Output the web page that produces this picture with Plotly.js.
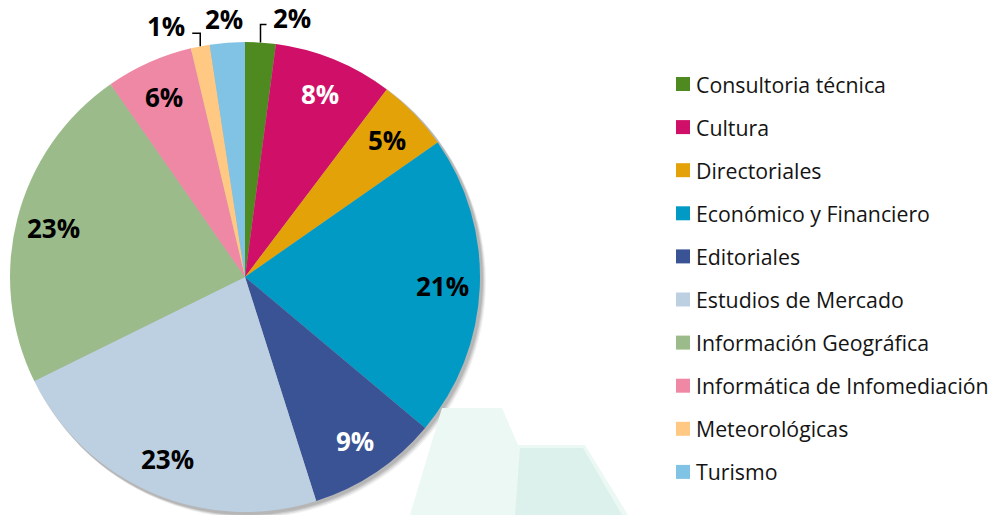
<!DOCTYPE html>
<html>
<head>
<meta charset="utf-8">
<script src="https://cdn.plot.ly/plotly-3.0.1.min.js"></script>
<style>html,body{margin:0;padding:0;background:#fff;}#chart{width:998px;height:515px;}</style>
</head>
<body>
<div id="chart"></div>
<script>
// Data
const categories = [
  "Consultoria técnica",
  "Cultura",
  "Directoriales",
  "Económico y Financiero",
  "Editoriales",
  "Estudios de Mercado",
  "Información Geográfica",
  "Informática de Infomediación",
  "Meteorológicas",
  "Turismo"
];
const shares = [2.1, 8.2, 5.0, 20.8, 9.0, 22.6, 22.6, 6.0, 1.3, 2.4];
const sliceColors = ["#4F8A21", "#D01068", "#E2A208", "#009AC5", "#3A5395",
                     "#BDD0E2", "#9BBC8A", "#EE88A5", "#FFC983", "#80C3E5"];
const labelColors = ["#000", "#fff", "#000", "#000", "#fff",
                     "#000", "#000", "#000", "#000", "#000"];
const labelOutside = [true, false, false, false, false, false, false, false, true, true];
// offsets (px) of outside labels from the slice edge
const outsideOffsets = {0: [32, -25], 8: [-34, -20], 9: [-3, -24]};

const W = 998, H = 515;
const px = x => x / W;
const py = y => 1 - y / H;

// pie geometry (pixels)
const cx = 245, cy = 277, R = 235;
const FONT = "'Open Sans', 'Noto Sans', sans-serif";

const shapes = [];
const annotations = [];

// soft drop shadow
[[5, 0.05], [4, 0.07], [3, 0.09], [2, 0.10]].forEach(([o, a]) => {
  shapes.push({type: "circle", xref: "paper", yref: "paper", layer: "below",
    x0: px(cx - R + o - 1), x1: px(cx + R + o + 1), y0: py(cy + R + o + 1), y1: py(cy - R + o - 1),
    fillcolor: "rgba(0,0,0," + a + ")", line: {width: 0}});
});
// faint watermark in the background
shapes.push({type: "path", xref: "paper", yref: "paper", layer: "below",
  path: "M " + px(410) + " " + py(515) + " L " + px(442) + " " + py(408) + " L " + px(502) + " " + py(408) +
        " L " + px(518) + " " + py(445) + " L " + px(585) + " " + py(445) + " L " + px(628) + " " + py(515) + " Z",
  fillcolor: "#ECF8F4", line: {width: 0}});
shapes.push({type: "path", xref: "paper", yref: "paper", layer: "below",
  path: "M " + px(515) + " " + py(515) + " L " + px(520) + " " + py(448) + " L " + px(583) + " " + py(448) +
        " L " + px(622) + " " + py(515) + " Z",
  fillcolor: "#DCF1EB", line: {width: 0}});

// percentage labels placed from the cumulative shares
const total = shares.reduce((a, b) => a + b, 0);
let cum = 0;
shares.forEach((v, i) => {
  const mid = (cum + v / 2) / total * 2 * Math.PI;
  cum += v;
  const txt = Math.round(v / total * 100) + "%";
  if (!labelOutside[i]) {
    const rl = 0.84 * R;
    annotations.push({xref: "paper", yref: "paper",
      x: px(cx + rl * Math.sin(mid)), y: py(cy - rl * Math.cos(mid)),
      xanchor: "center", yanchor: "middle", showarrow: false, text: "<b>" + txt + "</b>",
      font: {family: FONT, size: 26, color: labelColors[i]}});
  } else {
    const ax = cx + R * Math.sin(mid), ay = cy - R * Math.cos(mid);
    const [dx, dy] = outsideOffsets[i];
    const lx = ax + dx, ly = ay + dy;
    annotations.push({xref: "paper", yref: "paper", x: px(lx), y: py(ly),
      xanchor: "center", yanchor: "middle", showarrow: false, borderpad: 0,
      text: "<b>" + txt + "</b>",
      font: {family: FONT, size: 26, color: labelColors[i]}});
    if (Math.abs(dx) > 15) {
      const ey = ly + 7, ex = lx - Math.sign(dx) * 26;
      shapes.push({type: "path", xref: "paper", yref: "paper",
        path: "M " + px(ax) + " " + py(ay) + " L " + px(ax) + " " + py(ey) + " L " + px(ex) + " " + py(ey),
        line: {color: "#000", width: 1.5}});
    }
  }
});

// legend (squares + annotations)
const legTop = 84, legStep = 43.1;
categories.forEach((c, i) => {
  const yc = legTop + legStep * i;
  shapes.push({type: "rect", xref: "paper", yref: "paper",
    x0: px(676), x1: px(690), y0: py(yc + 7), y1: py(yc - 7),
    fillcolor: sliceColors[i], line: {width: 0}});
  annotations.push({xref: "paper", yref: "paper", x: px(694), y: py(yc),
    xanchor: "left", yanchor: "middle", showarrow: false, text: c,
    font: {family: FONT, size: 21.3, color: "#141414"}});
});

const trace = {
  type: "pie",
  labels: categories,
  values: shares,
  sort: false,
  direction: "clockwise",
  rotation: 0,
  marker: {colors: sliceColors, line: {width: 0}},
  textinfo: "none",
  hoverinfo: "label+percent",
  domain: {x: [px(cx - R), px(cx + R)], y: [py(cy + R), py(cy - R)]},
  showlegend: false
};

const layout = {
  width: W, height: H,
  margin: {l: 0, r: 0, t: 0, b: 0},
  paper_bgcolor: "#ffffff",
  showlegend: false,
  shapes: shapes,
  annotations: annotations
};

Plotly.newPlot("chart", [trace], layout, {displayModeBar: false, staticPlot: true});
</script>
</body>
</html>
